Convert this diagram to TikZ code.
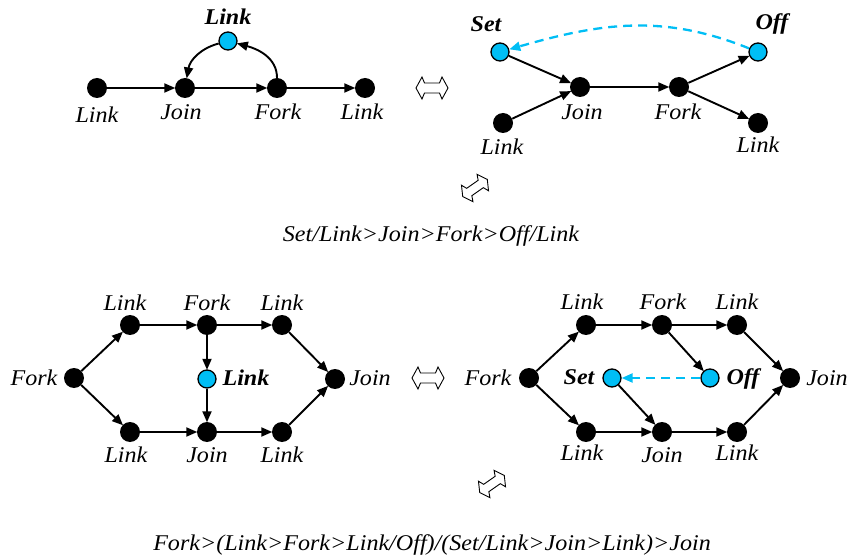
\documentclass[tikz,border=0pt]{standalone}
\usepackage{fontspec}
\setmainfont{Liberation Serif}[FakeStretch=1.07]
\usetikzlibrary{arrows.meta}
\definecolor{cyanc}{RGB}{0,190,245}
\newcommand{\lblfont}{\fontsize{22.5}{26}\selectfont\itshape}
\begin{document}
\begin{tikzpicture}[x=1pt,y=-1pt,
  dot/.style={circle,fill=black,minimum size=20pt,inner sep=0pt},
  cdot/.style={circle,fill=cyanc,draw=black,line width=1.3pt,minimum size=18pt,inner sep=0pt},
  lbl/.style={font=\lblfont,inner sep=0pt,anchor=base},
  blbl/.style={font=\lblfont\bfseries,inner sep=0pt,anchor=base},
  edge/.style={-{Triangle[length=11pt,width=9pt]},line width=1.9pt,shorten >=-0.5pt},
  dedge/.style={-{Triangle[length=11pt,width=9pt]},cyanc,line width=2.3pt,dash pattern=on 9pt off 6pt},
  % hollow double-headed block arrow (equivalence sign)
  equiv/.pic={
    \draw[fill=white,line width=0.9pt,line join=miter]
      (-16,0) -- (-10,11) -- (-7.5,5) -- (7.5,5) -- (10,11) -- (16,0)
      -- (10,-11) -- (7.5,-5) -- (-7.5,-5) -- (-10,-11) -- cycle;
  },
  sequiv/.pic={
    \draw[fill=white,line width=0.9pt,line join=miter]
      (-15,0) -- (-9.5,10) -- (-7,4.5) -- (7,4.5) -- (9.5,10) -- (15,0)
      -- (9.5,-10) -- (7,-4.5) -- (-7,-4.5) -- (-9.5,-10) -- cycle;
  }
]
\useasboundingbox (0,0) rectangle (852,556);

% ---------- top left: Link > Join > Fork > Link with loop ----------
\node[dot]  (a1) at (97,88)  {};
\node[dot]  (a2) at (185,88) {};
\node[dot]  (a3) at (277,88) {};
\node[dot]  (a4) at (365,88) {};
\node[cdot] (ac) at (228,41) {};
\node[lbl]  (la1) at (97,123)  {Link};
\node[lbl]  (la2) at (181,120) {Join};
\node[lbl]  (la3) at (278,120) {Fork};
\node[lbl]  (la4) at (362,120) {Link};
\node[blbl] (lac) at (228,25)  {Link};
\draw[edge] (a1) -- (a2);
\draw[edge] (a2) -- (a3);
\draw[edge] (a3) -- (a4);
\draw[edge] (a3) to[out=90,in=-15] (ac);
\draw[edge] (ac) to[out=195,in=80] (a2);

\pic at (432,88) {equiv};

% ---------- top right: Set/Link > Join > Fork > Off/Link ----------
\node[cdot] (bs) at (500,52)  {};
\node[cdot] (bo) at (758,52)  {};
\node[dot]  (bj) at (580,87)  {};
\node[dot]  (bf) at (679,87)  {};
\node[dot]  (bl) at (503,123) {};
\node[dot]  (br) at (758,123) {};
\node[blbl] (lbs) at (486,32)  {Set};
\node[blbl] (lbo) at (772,30)  {Off};
\node[lbl]  (lbj) at (582,120) {Join};
\node[lbl]  (lbf) at (678,120) {Fork};
\node[lbl]  (lbl) at (502,155) {Link};
\node[lbl]  (lbr) at (758,153) {Link};
\draw[edge] (bs) -- (bj);
\draw[edge] (bl) -- (bj);
\draw[edge] (bj) -- (bf);
\draw[edge] (bf) -- (bo);
\draw[edge] (bf) -- (br);
\draw[dedge] (bo) to[out=158,in=16] (bs);

\pic[rotate=35] at (475,188) {sequiv};

\node[lbl] (cap1) at (431,242) {Set/Link>Join>Fork>Off/Link};

% ---------- bottom left ----------
\node[dot]  (c0) at (74,378)  {};
\node[dot]  (c1) at (130,325) {};
\node[dot]  (c2) at (207,325) {};
\node[dot]  (c3) at (282,325) {};
\node[cdot] (cc) at (207,379) {};
\node[dot]  (c9) at (335,379) {};
\node[dot]  (c4) at (130,432) {};
\node[dot]  (c5) at (207,432) {};
\node[dot]  (c6) at (282,432) {};
\node[lbl]  (lc1) at (125,310) {Link};
\node[lbl]  (lc2) at (207,310) {Fork};
\node[lbl]  (lc3) at (282,310) {Link};
\node[lbl]  (lc0) at (34,385)  {Fork};
\node[blbl] (lcc) at (246,385) {Link};
\node[lbl]  (lc9) at (370,385) {Join};
\node[lbl]  (lc4) at (126,462) {Link};
\node[lbl]  (lc5) at (207,462) {Join};
\node[lbl]  (lc6) at (282,462) {Link};
\draw[edge] (c0) -- (c1);
\draw[edge] (c0) -- (c4);
\draw[edge] (c1) -- (c2);
\draw[edge] (c2) -- (c3);
\draw[edge] (c3) -- (c9);
\draw[edge] (c2) -- (cc);
\draw[edge] (cc) -- (c5);
\draw[edge] (c4) -- (c5);
\draw[edge] (c5) -- (c6);
\draw[edge] (c6) -- (c9);

\pic at (428,378) {equiv};

% ---------- bottom right ----------
\node[dot]  (d0) at (529,378) {};
\node[dot]  (d1) at (586,325) {};
\node[dot]  (d2) at (662,325) {};
\node[dot]  (d3) at (737,325) {};
\node[cdot] (ds) at (612,378) {};
\node[cdot] (do) at (710,378) {};
\node[dot]  (d9) at (790,378) {};
\node[dot]  (d4) at (586,432) {};
\node[dot]  (d5) at (662,432) {};
\node[dot]  (d6) at (737,432) {};
\node[lbl]  (ld1) at (582,309) {Link};
\node[lbl]  (ld2) at (663,309) {Fork};
\node[lbl]  (ld3) at (737,309) {Link};
\node[lbl]  (ld0) at (488,385) {Fork};
\node[blbl] (lds) at (579,384) {Set};
\node[blbl] (ldo) at (743,384) {Off};
\node[lbl]  (ld9) at (827,385) {Join};
\node[lbl]  (ld4) at (582,460) {Link};
\node[lbl]  (ld5) at (662,462) {Join};
\node[lbl]  (ld6) at (737,460) {Link};
\draw[edge] (d0) -- (d1);
\draw[edge] (d0) -- (d4);
\draw[edge] (d1) -- (d2);
\draw[edge] (d2) -- (d3);
\draw[edge] (d3) -- (d9);
\draw[edge] (d2) -- (do);
\draw[edge] (ds) -- (d5);
\draw[edge] (d4) -- (d5);
\draw[edge] (d5) -- (d6);
\draw[edge] (d6) -- (d9);
\draw[dedge] (do) -- (ds);

\pic[rotate=35] at (492,484) {sequiv};

\node[lbl] (cap2) at (432,550) {Fork>(Link>Fork>Link/Off)/(Set/Link>Join>Link)>Join};
\end{tikzpicture}
\end{document}
